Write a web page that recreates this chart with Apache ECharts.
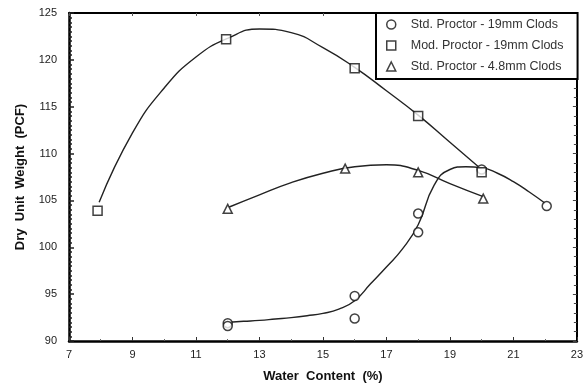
<!DOCTYPE html>
<html>
<head>
<meta charset="utf-8">
<script src="https://cdn.jsdelivr.net/npm/echarts@6/dist/echarts.min.js"></script>
<style>
html,body{margin:0;padding:0;background:#fff;}
#chart{width:586px;height:389px;}
</style>
</head>
<body>
<div id="chart"></div>
<script>
// Tick values
var xTicks = [7, 9, 11, 13, 15, 17, 19, 21, 23];
var yTicks = [90, 95, 100, 105, 110, 115, 120, 125];

// Measured points
var stdCoarseName = 'Std. Proctor - 19mm Clods';
var stdCoarseX = [12, 12, 16, 16, 18, 18, 20, 22.05];
var stdCoarseY = [91.9, 91.6, 94.8, 92.4, 101.6, 103.6, 108.3, 104.4];

var modName = 'Mod. Proctor - 19mm Clods';
var modX = [7.9, 11.95, 16, 18, 20];
var modY = [103.9, 122.2, 119.1, 114.0, 108.0];

var stdFineName = 'Std. Proctor - 4.8mm Clods';
var stdFineX = [12, 15.7, 18, 20.05];
var stdFineY = [104.1, 108.4, 108.0, 105.2];

// Fitted curves
var modCurveX = [7.95, 9, 10, 11, 12, 13, 14, 15, 16, 17, 18, 19, 20];
var modCurveY = [104.8, 112.2, 117.0, 120.3, 122.3, 123.3, 122.9, 121.3, 119.2, 116.7, 114.1, 111.2, 108.3];

var stdCoarseCurveX = [12.05, 12.5, 13, 13.5, 14, 14.5, 15, 15.5, 16, 16.5, 17, 17.5, 18, 18.5, 19, 19.5, 20, 20.5, 21, 21.5, 22];
var stdCoarseCurveY = [92.0, 92.1, 92.2, 92.35, 92.5, 92.7, 92.95, 93.4, 94.3, 96.1, 97.9, 99.8, 102.4, 106.6, 108.3, 108.6, 108.5, 107.9, 107.0, 105.9, 104.7];

var stdFineCurveX = [12.05, 13, 14, 15, 16, 17, 18, 19, 20.05];
var stdFineCurveY = [104.3, 105.6, 106.9, 107.9, 108.6, 108.8, 108.2, 106.8, 105.4];

function pairs(xs, ys) {
  return xs.map(function (x, i) { return [x, ys[i]]; });
}

var chart = echarts.init(document.getElementById('chart'), null, {renderer: 'canvas'});
var txt = '#222';
var font = 'Liberation Sans, Arial, sans-serif';
var markerStyle = {color: '#fff', borderColor: '#111', borderWidth: 1.5};
var curveStyle = {color: '#222', width: 1.4};

function curve(xs, ys) {
  return {type: 'line', data: pairs(xs, ys), smooth: 0.5,
    showSymbol: false, symbol: 'none', lineStyle: curveStyle, z: 2, silent: true};
}

var option = {
  backgroundColor: '#fff',
  animation: false,
  grid: {left: 69, right: 6, top: 13, bottom: 48, containLabel: false},
  legend: {
    orient: 'vertical',
    left: 376,
    top: 13,
    data: [stdCoarseName, modName, stdFineName],
    backgroundColor: '#fff',
    borderColor: '#000',
    borderWidth: 2,
    borderRadius: 0,
    padding: [5, 14, 6, 10],
    itemWidth: 9,
    itemHeight: 9,
    itemGap: 8,
    itemStyle: {borderWidth: 1.5},
    textStyle: {fontFamily: font, fontSize: 12.5, color: '#333', padding: [0, 0, 0, 10]}
  },
  xAxis: [{
    type: 'value', min: 7, max: 23, interval: 2,
    name: 'Water  Content  (%)', nameLocation: 'middle', nameGap: 29,
    nameTextStyle: {fontFamily: font, fontSize: 13, fontWeight: 'bold', color: '#111'},
    axisLine: {show: true, lineStyle: {color: '#000', width: 2.5}},
    axisTick: {show: true, inside: true, length: 4, lineStyle: {color: '#333', width: 1}},
    minorTick: {show: true, splitNumber: 2, length: 2, lineStyle: {color: '#666'}},
    axisLabel: {margin: 8, fontFamily: font, fontSize: 11, color: txt,
      formatter: function (v) { return xTicks.indexOf(v) >= 0 ? String(v) : ''; }},
    splitLine: {show: false}
  }, {
    type: 'value', min: 7, max: 23, interval: 2, position: 'top',
    axisLine: {show: true, lineStyle: {color: '#000', width: 2}},
    axisTick: {show: true, inside: true, length: 3, lineStyle: {color: '#555'}},
    axisLabel: {show: false},
    splitLine: {show: false}
  }],
  yAxis: [{
    type: 'value', min: 90, max: 125, interval: 5,
    name: 'Dry  Unit  Weight  (PCF)', nameLocation: 'middle', nameGap: 42, nameRotate: 90,
    nameTextStyle: {fontFamily: font, fontSize: 13, fontWeight: 'bold', color: '#111'},
    axisLine: {show: true, lineStyle: {color: '#000', width: 2.5}},
    axisTick: {show: true, inside: true, length: 5, lineStyle: {color: '#222', width: 1.5}},
    minorTick: {show: true, splitNumber: 10, length: 3, lineStyle: {color: '#222', width: 1.5}},
    axisLabel: {margin: 12, fontFamily: font, fontSize: 11, color: txt,
      formatter: function (v) { return yTicks.indexOf(v) >= 0 ? String(v) : ''; }},
    splitLine: {show: false}
  }, {
    type: 'value', min: 90, max: 125, interval: 5, position: 'right',
    axisLine: {show: true, lineStyle: {color: '#000', width: 2}},
    axisTick: {show: true, inside: true, length: 4, lineStyle: {color: '#444'}},
    minorTick: {show: true, splitNumber: 5, length: 3, lineStyle: {color: '#444'}},
    axisLabel: {show: false},
    splitLine: {show: false}
  }],
  series: [
    curve(modCurveX, modCurveY),
    curve(stdCoarseCurveX, stdCoarseCurveY),
    curve(stdFineCurveX, stdFineCurveY),
    {name: stdCoarseName, type: 'scatter', symbol: 'circle', symbolSize: 9,
      data: pairs(stdCoarseX, stdCoarseY), itemStyle: markerStyle, z: 5},
    {name: modName, type: 'scatter', symbol: 'rect', symbolSize: 9,
      data: pairs(modX, modY), itemStyle: markerStyle, z: 5},
    {name: stdFineName, type: 'scatter', symbol: 'triangle', symbolSize: 9,
      data: pairs(stdFineX, stdFineY), itemStyle: markerStyle, z: 5}
  ]
};
chart.setOption(option);
</script>
</body>
</html>
